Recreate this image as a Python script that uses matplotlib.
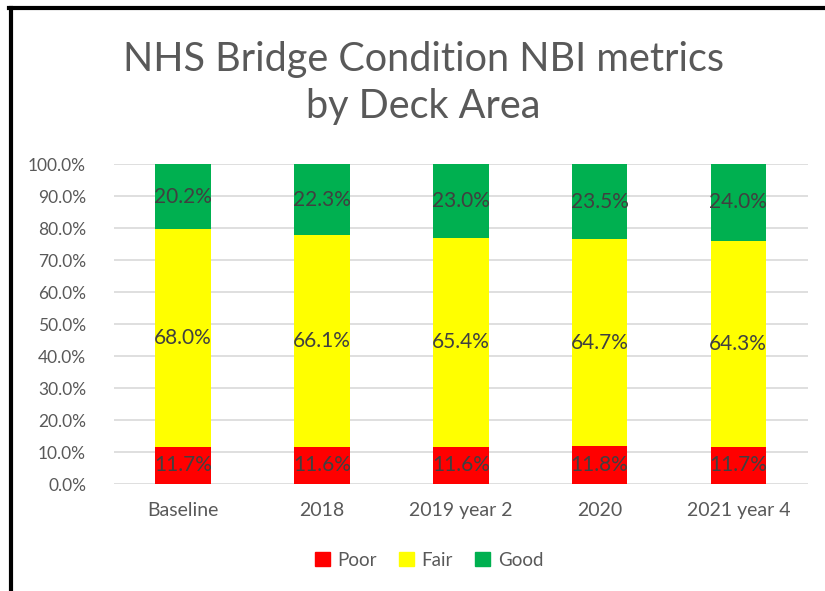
import matplotlib.pyplot as plt
import numpy as np
from matplotlib.lines import Line2D
from matplotlib.patches import Patch

plt.rcParams['font.family'] = ['Lato', 'DejaVu Sans']

years = ['Baseline', '2018', '2019 year 2', '2020', '2021 year 4']
poor = [11.7, 11.6, 11.6, 11.8, 11.7]
fair = [68.0, 66.1, 65.4, 64.7, 64.3]
good = [20.2, 22.3, 23.0, 23.5, 24.0]

fig = plt.figure(figsize=(8.25, 5.91), dpi=100)
ax = fig.add_axes([0.138, 0.181, 0.841, 0.5415])

x = np.arange(len(years))
w = 0.40
colors = ['#ff0000', '#ffff00', '#00b050']
bottom = np.zeros(len(years))
for vals, c, name in zip([poor, fair, good], colors, ['Poor', 'Fair', 'Good']):
    v = np.array(vals)
    ax.bar(x, v, w, bottom=bottom, color=c, label=name, zorder=3)
    for xi, b, h in zip(x, bottom, v):
        ax.text(xi, b + h / 2, f'{h:.1f}%', ha='center', va='center',
                fontsize=15, color='#404040', zorder=4)
    bottom += v

ax.set_xlim(-0.5, len(years) - 0.5)
ax.set_ylim(0, 100)
ax.set_yticks(np.arange(0, 101, 10))
ax.set_yticklabels([f'{t:.1f}%' for t in np.arange(0, 101, 10)])
ax.set_xticks(x)
ax.set_xticklabels(years)
ax.grid(axis='y', color='#d9d9d9', linewidth=1.2, zorder=0)
for s in ax.spines.values():
    s.set_visible(False)
ax.tick_params(length=0, colors='#595959')
ax.tick_params(axis='x', labelsize=14, pad=13)
ax.tick_params(axis='y', labelsize=12.5, pad=20)

fig.text(0.513, 0.860, 'NHS Bridge Condition NBI metrics\nby Deck Area',
         ha='center', va='center', fontsize=28.5, color='#595959',
         linespacing=1.32)

handles = [Patch(color=c) for c in colors]
fig.legend(handles, ['Poor', 'Fair', 'Good'], loc='center',
           bbox_to_anchor=(0.52, 0.052), ncol=3, frameon=False,
           fontsize=13.5, labelcolor='#595959', handlelength=0.8,
           handleheight=0.8, columnspacing=1.2, handletextpad=0.4)

# frame edges visible in the source crop
fig.add_artist(Line2D([0.013, 0.013], [0, 0.986], color='black', lw=3,
                      transform=fig.transFigure))
fig.add_artist(Line2D([0.011, 1], [0.986, 0.986], color='black', lw=3,
                      transform=fig.transFigure))

fig.savefig('out.png', dpi=100)
